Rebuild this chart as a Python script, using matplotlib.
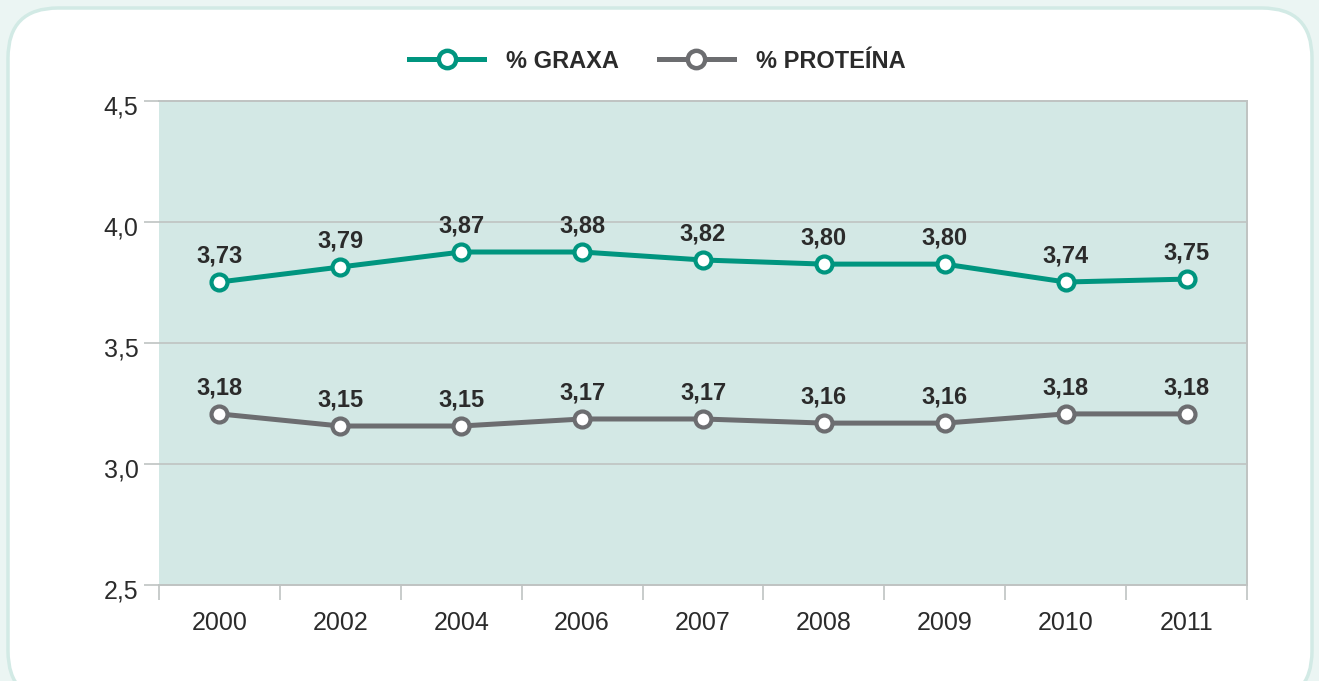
import matplotlib
matplotlib.use('Agg')
import matplotlib.pyplot as plt
import matplotlib.transforms as mtransforms
from matplotlib.lines import Line2D
from matplotlib.patches import FancyBboxPatch

# categories and values
years = ['2000', '2002', '2004', '2006', '2007', '2008', '2009', '2010', '2011']
graxa = [3.752, 3.814, 3.876, 3.876, 3.843, 3.826, 3.826, 3.752, 3.764]
graxa_labels = ['3,73', '3,79', '3,87', '3,88', '3,82', '3,80', '3,80', '3,74', '3,75']
proteina = [3.207, 3.157, 3.157, 3.186, 3.186, 3.169, 3.169, 3.207, 3.207]
proteina_labels = ['3,18', '3,15', '3,15', '3,17', '3,17', '3,16', '3,16', '3,18', '3,18']
yticks = [2.5, 3.0, 3.5, 4.0, 4.5]
ytick_labels = ['2,5', '3,0', '3,5', '4,0', '4,5']

TEAL = '#00957f'
GREY = '#6c6d70'
FILL = '#d3e8e5'
GRID = '#bfc3c2'
TXT = '#2b2b2b'

plt.rcParams['font.family'] = ['Liberation Sans', 'DejaVu Sans']

fig = plt.figure(figsize=(13.19, 6.81), dpi=100)
fig.patch.set_facecolor('#ebf5f3')

# white rounded card behind the chart
W, H = 1319., 681.
card = FancyBboxPatch((8 / W, -20 / H), 1304 / W, (673 + 20) / H,
                      boxstyle='round,pad=0,rounding_size=%f' % (50 / W),
                      mutation_aspect=W / H, transform=fig.transFigure,
                      facecolor='white', edgecolor='#d2eae5', linewidth=2.5,
                      zorder=-10)
fig.patches.append(card)

ax = fig.add_axes([159 / W, 96 / H, 1088 / W, 484 / H])
ax.set_facecolor(FILL)

x = range(len(years))
for vals, labs, col in [(graxa, graxa_labels, TEAL), (proteina, proteina_labels, GREY)]:
    ax.plot(x, vals, color=col, linewidth=3.6, marker='o', markersize=11.5,
            markerfacecolor='white', markeredgecolor=col, markeredgewidth=3.0,
            zorder=3, clip_on=False)
    for i, (v, t) in enumerate(zip(vals, labs)):
        ax.annotate(t, (i, v), xytext=(0, 14), textcoords='offset points',
                    ha='center', va='baseline', fontsize=17, fontweight='bold',
                    color=TXT)

ax.set_xlim(-0.5, len(years) - 0.5)
ax.set_ylim(2.5, 4.5)

ax.set_yticks(yticks)
ax.set_yticklabels(ytick_labels)
ax.set_xticks(list(x))
ax.set_xticklabels(years)
ax.set_xticks([i - 0.5 for i in range(len(years) + 1)], minor=True)

ax.tick_params(axis='y', length=10.8, width=1.2, color=GRID, pad=4,
               labelsize=18, labelcolor=TXT)
ax.tick_params(axis='x', which='major', length=0, pad=19, labelsize=18,
               labelcolor=TXT)
ax.tick_params(axis='x', which='minor', length=10.8, width=1.2, color=GRID)

# y labels sit a little below their gridlines in the original
shift = mtransforms.ScaledTranslation(0, -4 / 100., fig.dpi_scale_trans)
for lab in ax.get_yticklabels():
    lab.set_transform(lab.get_transform() + shift)

ax.grid(axis='y', color=GRID, linewidth=1.2)
ax.set_axisbelow(True)
ax.spines['left'].set_visible(False)
for s in ['top', 'bottom', 'right']:
    ax.spines[s].set_color(GRID)
    ax.spines[s].set_linewidth(1.4)

handles = [Line2D([], [], color=c, linewidth=3.6, marker='o', markersize=12.5,
                  markerfacecolor='white', markeredgecolor=c, markeredgewidth=3.2)
           for c in (TEAL, GREY)]
leg = fig.legend(handles, ['% GRAXA', '% PROTEÍNA'], loc='center',
                 bbox_to_anchor=(657 / W, 1 - 61 / H), ncol=2, frameon=False,
                 handlelength=3.2, handletextpad=0.9, columnspacing=1.7,
                 prop={'size': 17, 'weight': 'bold'})
for t in leg.get_texts():
    t.set_color(TXT)

fig.savefig('out.png', dpi=100, facecolor=fig.get_facecolor())
